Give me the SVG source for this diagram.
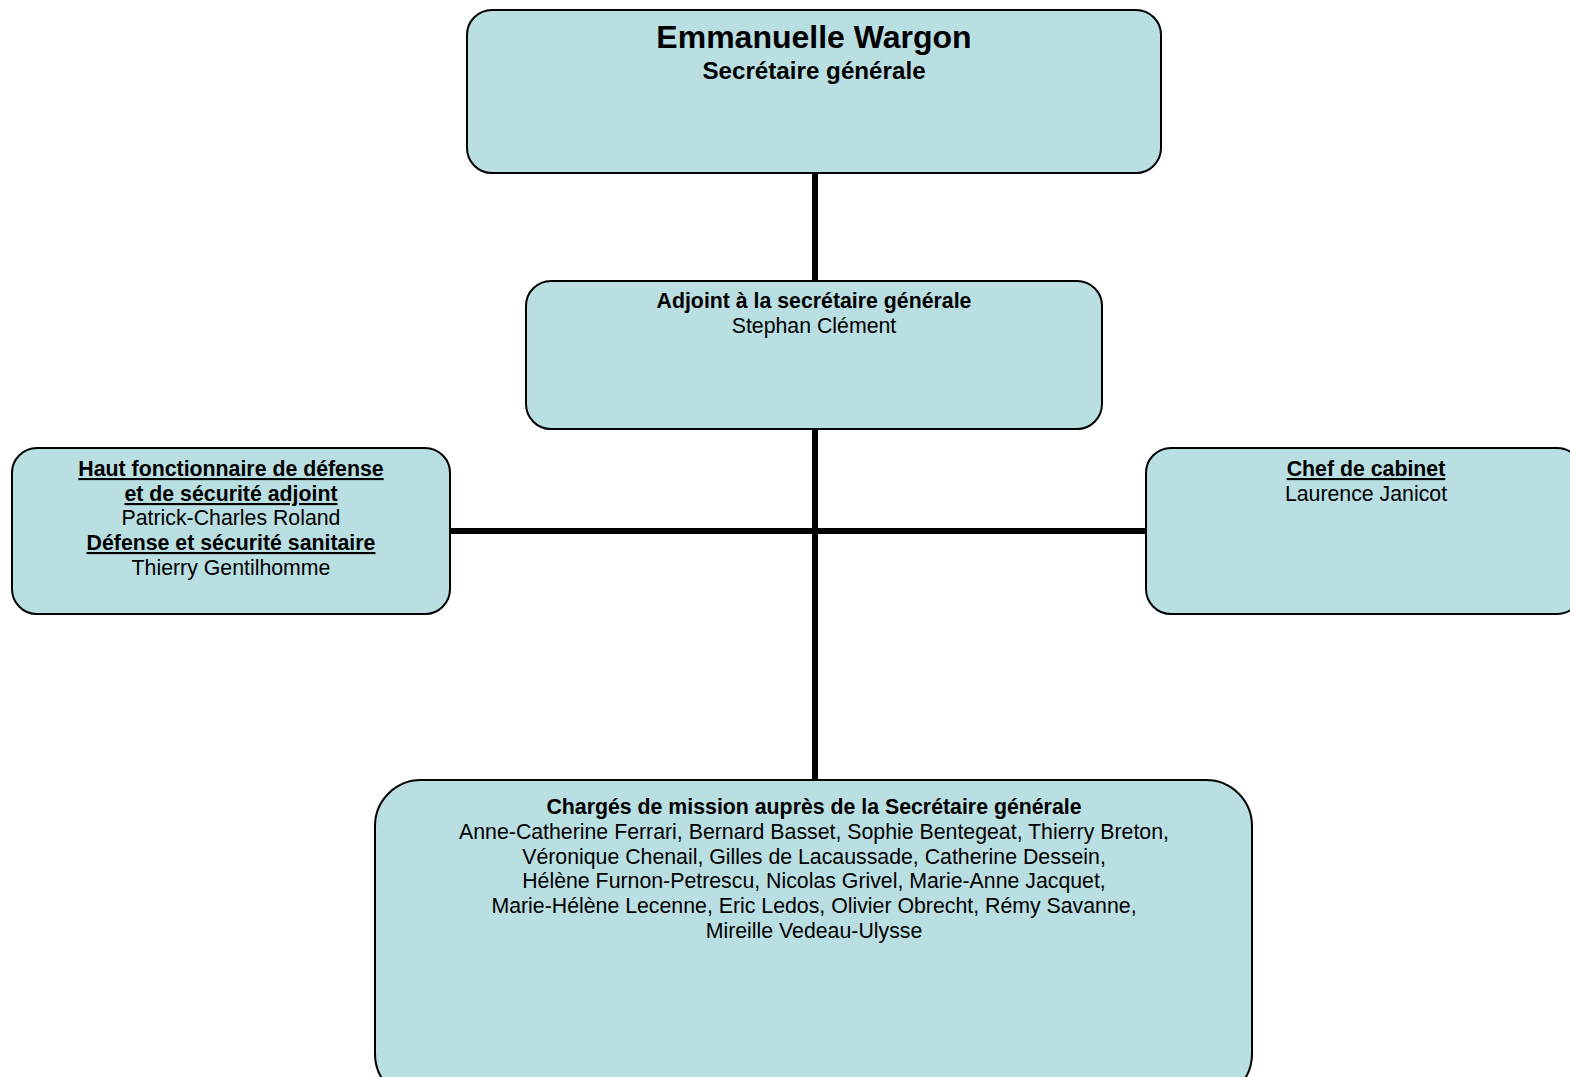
<svg xmlns="http://www.w3.org/2000/svg" width="1570" height="1077" viewBox="0 0 1570 1077">
<style>
.box{fill:#b9dfe2;stroke:#000;stroke-width:2}
.t{font-family:"Liberation Sans",Arial,sans-serif;font-size:21.3px;fill:#000;text-anchor:middle}
.b{font-weight:bold}
.u{text-decoration:underline}
.conn{stroke:#000;stroke-width:6;fill:none}
</style>
<rect width="1570" height="1077" fill="#fff"/>
<g id="connectors">
<line class="conn" x1="815" y1="172" x2="815" y2="281"/>
<line class="conn" x1="815" y1="428" x2="815" y2="780"/>
<line class="conn" x1="449" y1="531" x2="1146" y2="531"/>
</g>
<g id="n-wargon">
<rect class="box" x="467" y="10" width="694" height="163" rx="25" ry="25"/>
<text class="t b" x="814" y="48" style="font-size:32px">Emmanuelle Wargon</text>
<text class="t b" x="814" y="79" style="font-size:24.2px">Secrétaire générale</text>
</g>
<g id="n-adjoint">
<rect class="box" x="526" y="281" width="576" height="148" rx="25" ry="25"/>
<text class="t b" x="814" y="308">Adjoint à la secrétaire générale</text>
<text class="t" x="814" y="333">Stephan Clément</text>
</g>
<g id="n-hfd">
<rect class="box" x="12" y="448" width="438" height="166" rx="25" ry="25"/>
<text class="t b u" x="231" y="476">Haut fonctionnaire de défense</text>
<text class="t b u" x="231" y="501">et de sécurité adjoint</text>
<text class="t" x="231" y="525">Patrick-Charles Roland</text>
<text class="t b u" x="231" y="550">Défense et sécurité sanitaire</text>
<text class="t" x="231" y="575">Thierry Gentilhomme</text>
</g>
<g id="n-cabinet">
<rect class="box" x="1146" y="448" width="436" height="166" rx="25" ry="25"/>
<text class="t b u" x="1366" y="476">Chef de cabinet</text>
<text class="t" x="1366" y="501">Laurence Janicot</text>
</g>
<g id="n-charges">
<rect class="box" x="375" y="780" width="877" height="320" rx="46" ry="46"/>
<text class="t b" x="814" y="814">Chargés de mission auprès de la Secrétaire générale</text>
<text class="t" x="814" y="839">Anne-Catherine Ferrari, Bernard Basset, Sophie Bentegeat, Thierry Breton,</text>
<text class="t" x="814" y="864">Véronique Chenail, Gilles de Lacaussade, Catherine Dessein,</text>
<text class="t" x="814" y="888">Hélène Furnon-Petrescu, Nicolas Grivel, Marie-Anne Jacquet,</text>
<text class="t" x="814" y="913">Marie-Hélène Lecenne, Eric Ledos, Olivier Obrecht, Rémy Savanne,</text>
<text class="t" x="814" y="938">Mireille Vedeau-Ulysse</text>
</g>
</svg>
